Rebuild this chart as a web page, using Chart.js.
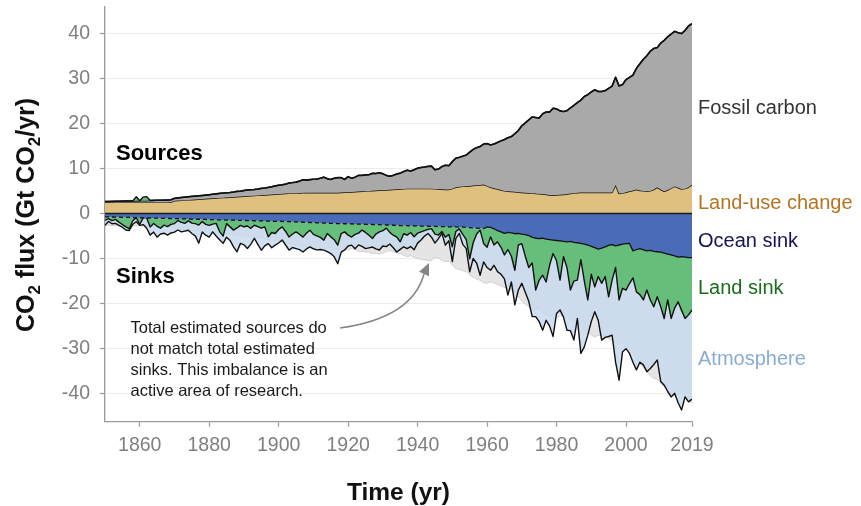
<!DOCTYPE html>
<html>
<head>
<meta charset="utf-8">
<script src="https://cdn.jsdelivr.net/npm/chart.js@4.4.1/dist/chart.umd.min.js"></script>
<style>
  html, body { margin: 0; padding: 0; background: #fff; }
  #wrap { width: 861px; height: 506px; }
</style>
</head>
<body>
<div id="wrap"><canvas id="chart" width="861" height="506"></canvas></div>
<script>
// Global CO2 budget 1850-2019, Gt CO2 per year (one value per year).
const firstYear = 1850;

const fossil = [
  0.20,0.21,0.23,0.25,0.27,0.29,0.31,0.32,0.33,0.34,
  0.36,0.38,0.39,0.42,0.45,0.47,0.49,0.51,0.52,0.54,
  0.55,0.60,0.65,0.68,0.70,0.73,0.75,0.77,0.79,0.82,
  0.86,0.91,0.95,1.00,1.02,1.03,1.04,1.10,1.19,1.20,
  1.30,1.37,1.37,1.37,1.42,1.52,1.56,1.63,1.72,1.87,
  1.96,2.02,2.10,2.32,2.35,2.45,2.62,2.92,2.80,2.90,
  3.00,3.05,3.20,3.46,3.10,2.95,3.20,3.35,3.30,2.85,
  3.42,3.05,3.25,3.60,3.55,3.60,3.60,3.85,3.75,3.90,
  3.60,3.25,3.00,3.15,3.40,3.55,3.85,4.10,3.90,4.20,
  4.55,4.70,4.80,4.95,5.00,4.25,4.45,5.05,5.40,5.30,
  6.00,6.45,6.55,6.70,6.90,7.50,8.00,8.35,8.55,9.00,
  9.40,9.40,9.80,10.35,10.90,11.40,11.90,12.20,12.90,13.70,
  14.80,15.50,16.20,16.90,16.90,16.80,17.80,18.30,18.40,19.30,
  19.10,18.60,18.40,18.50,19.00,19.50,20.00,20.50,21.30,21.70,
  22.30,22.80,22.40,22.40,22.60,23.10,23.60,23.90,23.90,24.10,
  25.00,25.30,25.60,26.90,28.10,29.20,30.10,31.00,31.30,31.00,
  32.50,33.50,34.00,34.20,34.40,34.40,34.50,35.10,35.80,35.70
];

const landUse = [
  2.45,2.45,2.45,2.45,2.45,2.45,2.45,2.45,2.45,2.45,
  2.45,2.45,2.45,2.45,2.45,2.45,2.45,2.45,2.45,2.5,
  2.8,2.85,2.9,2.95,3.0,3.05,3.1,3.15,3.2,3.25,
  3.3,3.35,3.4,3.45,3.5,3.55,3.6,3.65,3.7,3.75,
  3.8,3.85,3.9,3.95,4.0,4.05,4.1,4.15,4.2,4.25,
  4.3,4.35,4.4,4.45,4.5,4.5,4.55,4.57,4.6,4.6,
  4.6,4.6,4.6,4.6,4.6,4.6,4.6,4.6,4.65,4.7,
  4.75,4.75,4.8,4.85,4.9,4.95,5.0,5.05,5.1,5.15,
  5.2,5.2,5.25,5.3,5.35,5.4,5.45,5.5,5.5,5.5,
  5.5,5.5,5.5,5.5,5.5,5.45,5.4,5.35,5.3,5.3,
  5.5,5.8,5.9,6.0,6.05,6.1,6.2,6.25,6.3,6.4,
  6.1,5.8,5.6,5.4,5.2,5.0,4.9,4.85,4.8,4.7,
  4.65,4.6,4.55,4.5,4.4,4.35,4.3,4.2,4.1,4.05,
  4.1,4.15,4.2,4.3,4.4,4.5,4.6,4.65,4.65,4.65,
  4.65,4.65,4.65,4.65,4.65,4.65,4.65,6.3,4.4,4.5,
  4.7,4.9,5.1,5.3,5.1,5.0,4.9,5.0,5.3,5.8,
  5.3,4.9,5.2,5.6,6.0,5.7,5.4,5.5,5.8,6.4
];

const oceanSink = [
  -0.75,-0.77,-0.79,-0.81,-0.83,-0.85,-0.87,-0.89,-0.91,-0.93,
  -0.95,-0.97,-0.99,-1.01,-1.03,-1.05,-1.07,-1.09,-1.11,-1.13,
  -1.15,-1.17,-1.19,-1.21,-1.23,-1.25,-1.27,-1.29,-1.31,-1.33,
  -1.35,-1.38,-1.40,-1.42,-1.44,-1.46,-1.48,-1.50,-1.52,-1.54,
  -1.56,-1.58,-1.60,-1.62,-1.64,-1.66,-1.68,-1.70,-1.72,-1.74,
  -1.76,-1.78,-1.80,-1.83,-1.86,-1.89,-1.92,-1.95,-1.98,-2.01,
  -2.04,-2.07,-2.10,-2.13,-2.16,-2.19,-2.22,-2.25,-2.27,-2.29,
  -2.31,-2.33,-2.35,-2.37,-2.39,-2.41,-2.43,-2.45,-2.47,-2.50,
  -2.53,-2.56,-2.59,-2.62,-2.65,-2.68,-2.70,-2.72,-2.74,-2.76,
  -2.78,-2.80,-2.82,-2.84,-2.86,-2.88,-2.90,-2.92,-2.94,-2.96,
  -2.98,-3.00,-3.02,-3.05,-3.10,-3.15,-3.20,-3.25,-3.30,-3.35,
  -3.0,-3.1,-3.4,-3.8,-4.1,-4.4,-4.2,-4.3,-4.5,-4.4,
  -4.6,-4.7,-4.9,-5.3,-5.5,-5.6,-5.5,-5.7,-5.8,-5.9,
  -6.0,-6.1,-6.2,-6.3,-6.2,-6.4,-6.5,-6.65,-6.8,-7.0,
  -7.3,-7.6,-7.9,-7.7,-7.4,-7.1,-6.9,-7.2,-7.0,-6.8,
  -6.7,-6.65,-8.3,-8.0,-7.8,-8.1,-8.3,-8.2,-8.4,-8.5,
  -8.6,-8.8,-9.0,-9.2,-9.4,-9.7,-9.6,-9.7,-9.8,-9.8
];

// negative = uptake by land; positive = land acting as a source
const landSink = [
  -0.8,-0.4,-0.8,-0.5,-1.1,-1.6,-2.1,-2.5,-0.7,0.9,
  -1.5,0.8,0.9,-2.0,-1.2,-1.8,-2.2,-1.5,-1.8,-1.3,
  -1.1,-0.4,-0.8,-1.0,-0.4,-0.9,-1.0,-1.3,-0.5,-1.1,
  -1.3,-1.0,-0.8,-2.6,-3.6,-0.8,-1.5,-2.2,-1.7,-1.1,
  -1.4,-1.2,-1.7,-1.0,-1.3,-1.6,-1.3,-3.5,-2.5,-2.7,
  -1.8,-1.2,-2.2,-3.4,-2.7,-2.2,-2.7,-3.3,-2.4,-1.7,
  -2.6,-2.9,-3.2,-3.8,-2.3,-3.0,-3.6,-4.8,-2.2,-1.8,
  -2.5,-2.9,-2.3,-2.0,-1.3,-1.8,-2.4,-3.1,-2.1,-1.6,
  -1.3,-0.7,-1.6,-2.2,-2.6,-3.6,-1.8,-2.1,-1.5,-2.4,
  -1.6,-1.3,-1.0,-0.7,-0.5,-1.7,-1.9,-1.1,-2.3,-1.7,
  -4.4,-1.0,-0.4,-1.6,-2.7,-6.9,-3.3,-1.3,-0.4,-3.3,
  -4.5,-2.1,-3.6,-2.5,-3.4,-4.8,-3.8,-5.2,-8.1,-2.6,
  -2.1,-4.8,-7.1,-5.7,-11.5,-9.2,-8.2,-9.5,-5.7,-3.0,
  -4.5,-8.7,-3.4,-5.7,-10.8,-8.6,-8.3,-3.6,-8.2,-12.2,
  -6.2,-8.7,-6.1,-7.8,-6.6,-11.4,-7.9,-4.8,-12.2,-9.8,
  -10.3,-8.9,-6.0,-9.4,-10.2,-11.1,-8.7,-11.0,-12.3,-10.0,
  -12.1,-14.5,-10.2,-14.1,-11.6,-9.9,-11.9,-13.6,-12.7,-11.6
];

const atmosphere = [
  -1.1,-0.6,-0.7,-0.9,-0.7,-0.6,-0.7,-0.4,-0.8,-0.9,
  -0.2,-1.5,-2.3,-1.8,-1.9,-2.4,-1.3,-1.8,-1.9,-1.9,
  -1.9,-2.1,-2.1,-1.7,-2.1,-2.3,-2.7,-4.0,-2.3,-2.4,
  -2.6,-1.7,-2.8,-1.8,-1.6,-3.0,-3.0,-3.7,-5.3,-4.0,
  -4.0,-5.0,-3.5,-2.9,-3.9,-4.9,-4.2,-1.5,-3.4,-2.6,
  -3.0,-2.9,-3.0,-2.9,-3.0,-3.7,-3.4,-3.3,-3.5,-3.7,
  -3.2,-3.1,-2.7,-2.2,-4.0,-3.7,-3.8,-4.1,-4.1,-4.0,
  -2.4,-1.8,-3.2,-2.6,-3.6,-3.6,-2.8,-1.9,-3.3,-4.0,
  -3.4,-4.1,-2.6,-2.8,-3.3,-1.7,-2.9,-3.0,-3.1,-2.9,
  -2.2,-1.8,-1.2,-0.9,-1.9,-2.0,-0.8,-0.4,-1.8,-1.4,
  -3.3,-1.6,-1.0,-2.2,-2.0,-2.9,-3.5,-6.5,-10.0,-4.1,
  -4.5,-7.4,-4.5,-6.6,-6.0,-5.3,-10.1,-5.7,-7.7,-10.0,
  -8.8,-8.0,-7.5,-11.9,-5.9,-9.2,-12.2,-8.5,-13.5,-18.4,
  -11.7,-6.6,-13.4,-13.9,-9.0,-13.1,-8.5,-20.8,-14.6,-7.8,
  -10.5,-5.5,-9.7,-12.6,-13.5,-8.8,-12.2,-21.0,-17.8,-14.1,
  -13.0,-15.5,-18.7,-17.3,-15.0,-14.4,-18.1,-15.2,-12.8,-14.0,
  -16.6,-14.8,-20.3,-17.4,-18.9,-22.4,-22.1,-17.4,-19.3,-19.8
];

// Ocean-sink estimates before this year are drawn dashed
const oceanObsStart = 1959;

const xTicks = [1860, 1880, 1900, 1920, 1940, 1960, 1980, 2000, 2019];
const yTicks = [-40, -30, -20, -10, 0, 10, 20, 30, 40];

// ---- stacked edges built from the series above ----
const years = fossil.map((_, i) => firstYear + i);
const pts = arr => arr.map((v, i) => ({ x: years[i], y: Math.round(v * 1000) / 1000 }));

const sourcesTop = fossil.map((f, i) => f + landUse[i]);
const landSourceTop = sourcesTop.map((t, i) => t + Math.max(landSink[i], 0));
const landEdge = oceanSink.map((o, i) => o + Math.min(landSink[i], 0));
const atmEdge = landEdge.map((v, i) => v + atmosphere[i]);
const sourcesMirror = sourcesTop.map(t => -t);

const FONT = '"Liberation Sans", Arial, Helvetica, sans-serif';
const LINE = '#111111';

const base = { pointRadius: 0, pointHoverRadius: 0, tension: 0, borderColor: LINE, borderWidth: 1.4, borderJoinStyle: 'round' };

const datasets = [
  /* 0 */ { ...base, label: 'Land source', data: pts(landSourceTop), fill: 1, backgroundColor: '#65bf7b' },
  /* 1 */ { ...base, label: 'Fossil carbon', data: pts(sourcesTop), fill: 2, backgroundColor: '#a9a9a9', borderWidth: 1.6 },
  /* 2 */ { ...base, label: 'Land-use change', data: pts(landUse), fill: 'origin', backgroundColor: '#dfc07e' },
  /* 3 */ { ...base, label: 'Ocean sink edge', data: pts(oceanSink), fill: false, borderWidth: 1.3,
           segment: { borderDash: ctx => ctx.p1.parsed.x <= oceanObsStart ? [4, 3] : undefined } },
  /* 4 */ { ...base, label: 'Ocean sink', data: pts(oceanSink), fill: 'origin', backgroundColor: '#4a6bb8', borderWidth: 0 },
  /* 5 */ { ...base, label: 'Land sink', data: pts(landEdge), fill: 4, backgroundColor: '#65bf7b' },
  /* 6 */ { ...base, label: 'Atmosphere', data: pts(atmEdge), fill: 5, backgroundColor: 'rgba(200,219,237,0.85)' },
  /* 7 */ { ...base, label: 'Total sources', data: pts(sourcesMirror), fill: 'origin', backgroundColor: '#e5e5e5',
           borderColor: 'rgba(120,120,120,0.25)', borderWidth: 1 }
];

function drawRuns(ctx, runs, size, cx, baseline) {
  const subSize = Math.round(size * 0.68);
  const widths = runs.map(r => {
    ctx.font = 'bold ' + (r.sub ? subSize : size) + 'px ' + FONT;
    return ctx.measureText(r.t).width;
  });
  let x = cx - widths.reduce((a, b) => a + b, 0) / 2;
  runs.forEach((r, i) => {
    ctx.font = 'bold ' + (r.sub ? subSize : size) + 'px ' + FONT;
    ctx.fillText(r.t, x, baseline + (r.sub ? size * 0.22 : 0));
    x += widths[i];
  });
}

const annotations = {
  id: 'annotations',
  afterDatasetsDraw(chart) {
    const { ctx, chartArea: a, scales: { y } } = chart;
    const y0 = y.getPixelForValue(0);
    ctx.save();
    ctx.strokeStyle = '#1a1a1a';
    ctx.lineWidth = 1.5;
    ctx.beginPath();
    ctx.moveTo(a.left, y0);
    ctx.lineTo(a.right, y0);
    ctx.stroke();
    ctx.restore();
  },
  afterDraw(chart) {
    const { ctx, chartArea: a } = chart;
    ctx.save();
    ctx.textBaseline = 'alphabetic';
    ctx.textAlign = 'left';

    // group headings
    ctx.fillStyle = '#000';
    ctx.font = 'bold 22px ' + FONT;
    ctx.fillText('Sources', 116, 160);
    ctx.fillText('Sinks', 116, 283);

    // note on the budget imbalance
    ctx.fillStyle = '#1a1a1a';
    ctx.font = '16.5px ' + FONT;
    ['Total estimated sources do', 'not match total estimated',
     'sinks. This imbalance is an', 'active area of research.']
      .forEach((t, i) => ctx.fillText(t, 130.5, 333 + i * 21));

    // curved pointer to the gap between sources and sinks
    ctx.strokeStyle = '#858585';
    ctx.fillStyle = '#858585';
    ctx.lineWidth = 1.5;
    ctx.beginPath();
    ctx.moveTo(340, 328);
    ctx.quadraticCurveTo(412, 318, 424, 274);
    ctx.stroke();
    const tip = [429, 263], ang = Math.atan2(-11, 5);
    ctx.beginPath();
    ctx.moveTo(tip[0], tip[1]);
    ctx.lineTo(tip[0] - 12 * Math.cos(ang) + 5.5 * Math.sin(ang), tip[1] - 12 * Math.sin(ang) - 5.5 * Math.cos(ang));
    ctx.lineTo(tip[0] - 12 * Math.cos(ang) - 5.5 * Math.sin(ang), tip[1] - 12 * Math.sin(ang) + 5.5 * Math.cos(ang));
    ctx.closePath();
    ctx.fill();

    // series names at the right edge
    ctx.font = '20px ' + FONT;
    const lx = a.right + 6;
    [['Fossil carbon', '#333333', 113.5],
     ['Land-use change', '#b5741f', 208.5],
     ['Ocean sink', '#14145a', 247],
     ['Land sink', '#1b6d1b', 293.5],
     ['Atmosphere', '#8aabd4', 365]]
      .forEach(([t, c, by]) => { ctx.fillStyle = c; ctx.fillText(t, lx, by); });

    // axis titles
    ctx.fillStyle = '#111';
    drawRuns(ctx, [{ t: 'Time (yr)' }], 24.5, (a.left + a.right) / 2, 500);
    ctx.translate(34, 215);
    ctx.rotate(-Math.PI / 2);
    drawRuns(ctx, [{ t: 'CO' }, { t: '2', sub: true }, { t: ' flux (Gt CO' }, { t: '2', sub: true }, { t: '/yr)' }], 25, 0, 0);
    ctx.restore();
  }
};

new Chart(document.getElementById('chart'), {
  type: 'line',
  data: { datasets },
  options: {
    responsive: false,
    animation: false,
    events: [],
    layout: { padding: { top: 7, right: 169, bottom: 0, left: 0 } },
    plugins: { legend: { display: false }, tooltip: { enabled: false }, filler: { propagate: false } },
    scales: {
      x: {
        type: 'linear', min: 1850, max: 2019,
        afterBuildTicks: s => { s.ticks = xTicks.map(v => ({ value: v })); },
        afterFit: s => { s.height = 84.3; s.paddingLeft = 0; s.paddingRight = 0; },
        grid: { drawOnChartArea: false, tickLength: 5, tickColor: '#9a9a9a', tickWidth: 1.2 },
        border: { color: '#9a9a9a', width: 1.3 },
        ticks: { font: { family: FONT, size: 19.5 }, color: '#7f7f7f', padding: 7, maxRotation: 0, autoSkip: false, callback: v => String(v) }
      },
      y: {
        min: -46.2, max: 45.8,
        afterBuildTicks: s => { s.ticks = yTicks.map(v => ({ value: v })); },
        afterFit: s => { s.width = 105; s.paddingTop = 0; s.paddingBottom = 0; },
        grid: { color: '#ececec', lineWidth: 1, tickLength: 5, tickColor: '#9a9a9a', tickWidth: 1.2 },
        border: { color: '#9a9a9a', width: 1.3 },
        ticks: { font: { family: FONT, size: 19.5 }, color: '#7f7f7f', padding: 10, callback: v => String(v) }
      }
    }
  },
  plugins: [annotations]
});
</script>
</body>
</html>
